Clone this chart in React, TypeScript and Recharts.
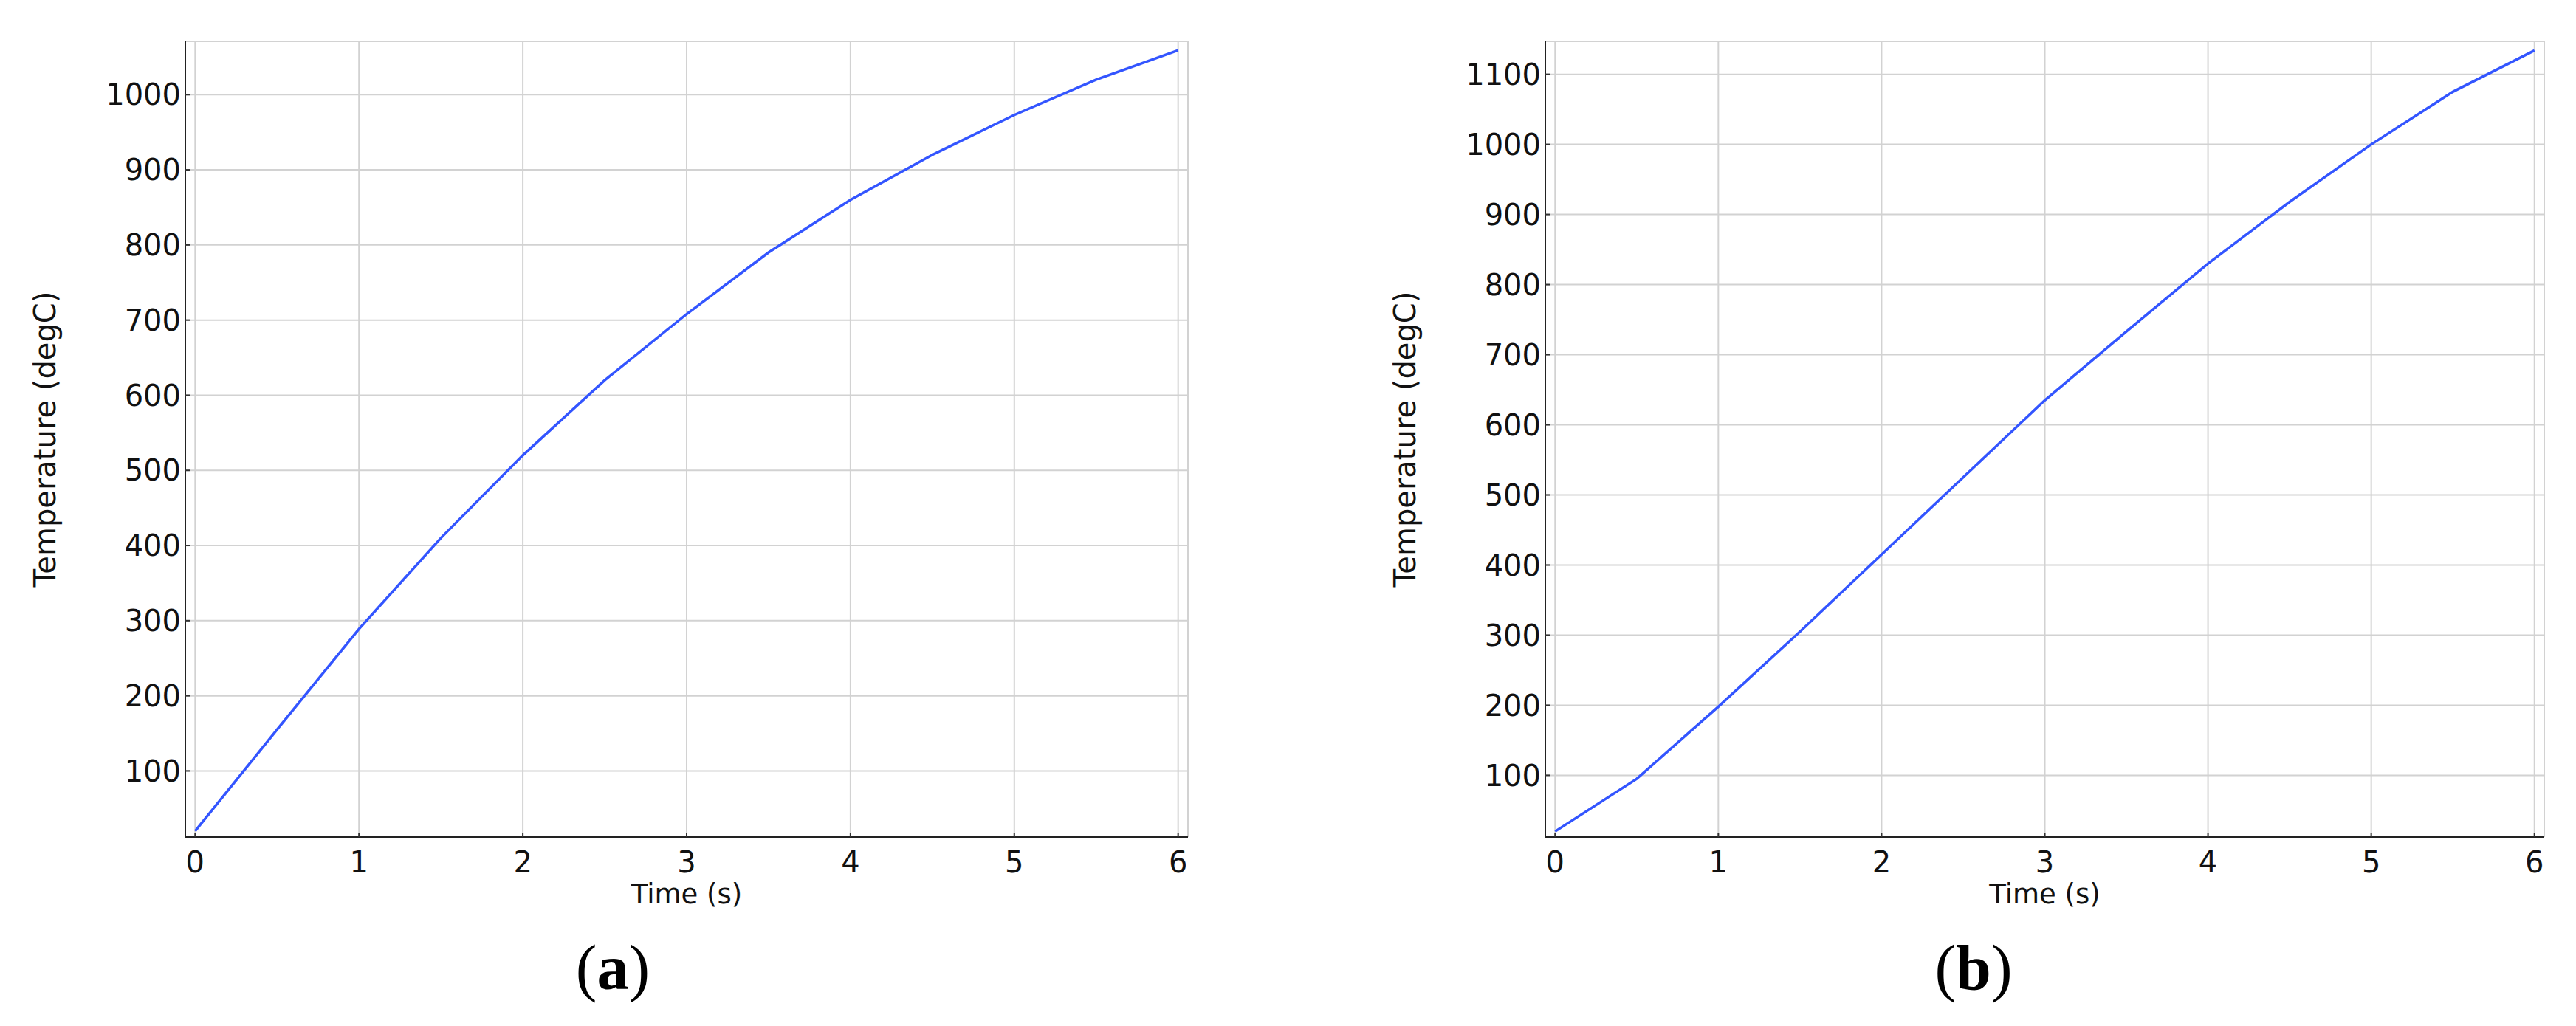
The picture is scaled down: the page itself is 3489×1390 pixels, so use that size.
import React from 'react';
import { CartesianGrid, Line, LineChart, XAxis, YAxis } from 'recharts';

// time points (s)
const timeS = [0, 0.5, 1, 1.5, 2, 2.5, 3, 3.5, 4, 4.5, 5, 5.5, 6];
// temperature (degC), panel (a) and (b)
const tempA = [20, 155, 289, 410, 520, 620, 708, 790, 860, 920, 973, 1020, 1059];
const tempB = [20, 95, 198, 305, 415, 525, 635, 733, 830, 918, 1000, 1075, 1134];

const xTicks = [0, 1, 2, 3, 4, 5, 6];
const yTicksA = [100, 200, 300, 400, 500, 600, 700, 800, 900, 1000];
const yTicksB = [100, 200, 300, 400, 500, 600, 700, 800, 900, 1000, 1100];

const xDomain: [number, number] = [-0.06, 6.06];
const yDomainA: [number, number] = [12, 1071];
const yDomainB: [number, number] = [12, 1147];

const FONT = 'DejaVu Sans';
const tickStyle = { fontSize: 40, fill: '#111', fontFamily: FONT };

type PanelProps = {
  values: number[];
  yTicks: number[];
  yDomain: [number, number];
  left: number;
  width: number;
  yAxisWidth: number;
  marginRight: number;
};

function Panel({ values, yTicks, yDomain, left, width, yAxisWidth, marginRight }: PanelProps) {
  const data = timeS.map((t, i) => ({ t, temp: values[i] }));
  return (
    <div style={{ position: 'absolute', left, top: 0 }}>
      <LineChart
        width={width}
        height={1260}
        data={data}
        margin={{ top: 56, right: marginRight, bottom: 0, left: 0 }}
      >
        <CartesianGrid stroke="#d2d2d2" strokeWidth={2} />
        <XAxis
          type="number"
          dataKey="t"
          domain={xDomain}
          ticks={xTicks}
          allowDataOverflow
          height={126}
          tickSize={-6}
          tickMargin={26}
          tick={tickStyle}
          axisLine={{ stroke: '#222', strokeWidth: 2 }}
          tickLine={{ stroke: '#333', strokeWidth: 2 }}
          label={{
            content: (p: any) => {
              const vb = p.viewBox;
              if (!vb) return null;
              return (
                <text
                  x={vb.x + vb.width / 2}
                  y={vb.y + 90}
                  textAnchor="middle"
                  fontFamily={FONT}
                  fontSize={37}
                  fill="#111"
                >
                  Time (s)
                </text>
              );
            },
          }}
        />
        <XAxis
          xAxisId="top"
          orientation="top"
          type="number"
          dataKey="t"
          domain={xDomain}
          ticks={xTicks}
          allowDataOverflow
          height={0}
          tickSize={-6}
          tickFormatter={() => ''}
          axisLine={{ stroke: '#b4b4b4', strokeWidth: 2 }}
          tickLine={{ stroke: '#333', strokeWidth: 2 }}
        />
        <YAxis
          type="number"
          domain={yDomain}
          ticks={yTicks}
          allowDataOverflow
          width={yAxisWidth}
          tickSize={-6}
          tickMargin={12}
          tick={tickStyle}
          axisLine={{ stroke: '#222', strokeWidth: 2 }}
          tickLine={{ stroke: '#333', strokeWidth: 2 }}
          label={{
            content: (p: any) => {
              const vb = p.viewBox;
              if (!vb) return null;
              const cx = vb.x + vb.width - 176;
              const cy = vb.y + vb.height / 2;
              return (
                <text
                  x={cx}
                  y={cy}
                  transform={`rotate(-90 ${cx} ${cy})`}
                  textAnchor="middle"
                  fontFamily={FONT}
                  fontSize={40}
                  fill="#111"
                >
                  Temperature (degC)
                </text>
              );
            },
          }}
        />
        <YAxis
          yAxisId="right"
          orientation="right"
          type="number"
          domain={yDomain}
          ticks={yTicks}
          allowDataOverflow
          width={0}
          tickSize={-6}
          tickFormatter={() => ''}
          axisLine={{ stroke: '#b4b4b4', strokeWidth: 2 }}
          tickLine={{ stroke: '#333', strokeWidth: 2 }}
        />
        <Line
          type="linear"
          dataKey="temp"
          stroke="#3355ff"
          strokeWidth={3.5}
          dot={false}
          isAnimationActive={false}
        />
      </LineChart>
    </div>
  );
}

export default function App() {
  return (
    <div
      style={{
        position: 'absolute',
        left: 0,
        top: 0,
        width: 3489,
        height: 1390,
        background: '#fff',
        overflow: 'hidden',
      }}
    >
      <Panel values={tempA} yTicks={yTicksA} yDomain={yDomainA} left={0} width={1700} yAxisWidth={251} marginRight={91} />
      <Panel values={tempB} yTicks={yTicksB} yDomain={yDomainB} left={1760} width={1729} yAxisWidth={333} marginRight={43} />
      <svg width={3489} height={1390} style={{ position: 'absolute', left: 0, top: 0, pointerEvents: 'none' }}>
        <text x={830} y={1340} textAnchor="middle" fontFamily="Liberation Serif" fontSize={86} fill="#000">
          (<tspan fontWeight="bold">a</tspan>)
        </text>
        <text x={2673} y={1340} textAnchor="middle" fontFamily="Liberation Serif" fontSize={86} fill="#000">
          (<tspan fontWeight="bold">b</tspan>)
        </text>
      </svg>
    </div>
  );
}
